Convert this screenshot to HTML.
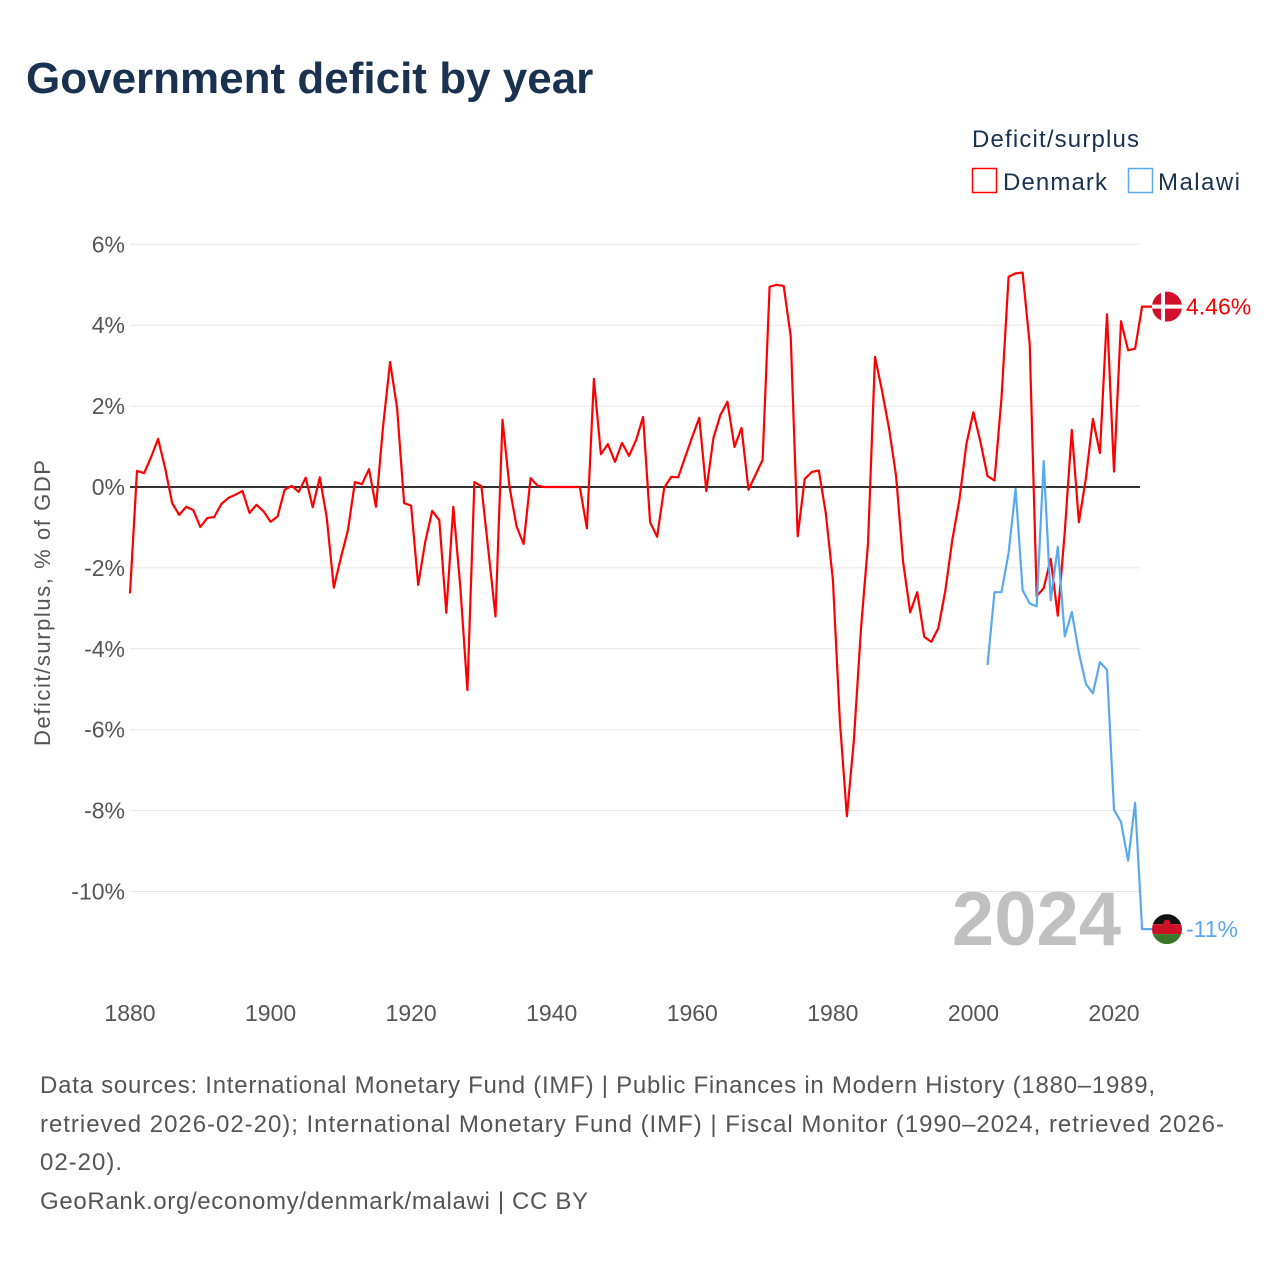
<!DOCTYPE html>
<html><head><meta charset="utf-8">
<style>
body{margin:0;background:#fff;font-family:"Liberation Sans",sans-serif;}
#wrap{position:relative;width:1280px;height:1280px;overflow:hidden;}
</style></head>
<body>
<div id="wrap">
<svg id="chart" width="1280" height="1280" xmlns="http://www.w3.org/2000/svg">
<text x="26" y="93" font-size="44" font-weight="bold" fill="#1a3150">Government deficit by year</text>
<text x="972" y="147" font-size="24" fill="#1a3150" textLength="167">Deficit/surplus</text>
<g>
<rect x="972.5" y="168.5" width="24" height="24" fill="none" stroke="#ff0000" stroke-width="1.5"/>
<text x="1003" y="190" font-size="24" fill="#1a3150" textLength="104">Denmark</text></g>
<g>
<rect x="1128.5" y="168.5" width="24" height="24" fill="none" stroke="#5aa9ef" stroke-width="1.5"/>
<text x="1158" y="190" font-size="24" fill="#1a3150" textLength="82">Malawi</text></g>
<text transform="translate(50,603) rotate(-90)" text-anchor="middle" font-size="22" fill="#555" textLength="286">Deficit/surplus, % of GDP</text>
<g id="grid"></g><g id="series"></g>
<text x="1121" y="945" text-anchor="end" font-size="76" font-weight="bold" fill="#c0c0c0">2024</text>
<g id="markers"></g>
<g font-size="24" fill="#555">
<text x="40" y="1093" textLength="1115">Data sources: International Monetary Fund (IMF) | Public Finances in Modern History (1880–1989,</text>
<text x="40" y="1132" textLength="1184">retrieved 2026-02-20); International Monetary Fund (IMF) | Fiscal Monitor (1990–2024, retrieved 2026-</text>
<text x="40" y="1170" textLength="82">02-20).</text>
<text x="40" y="1209" textLength="548">GeoRank.org/economy/denmark/malawi | CC BY</text>
</g>
</svg>
</div>
<script>
const yTicks=[6,4,2,0,-2,-4,-6,-8,-10];
const xTicks=[1880,1900,1920,1940,1960,1980,2000,2020];
const denmarkStart=1880;
const denmarkValues=[-2.63,0.40,0.34,0.74,1.19,0.47,-0.40,-0.69,-0.49,-0.57,-0.99,-0.77,-0.74,-0.42,-0.27,-0.19,-0.10,-0.64,-0.44,-0.60,-0.86,-0.73,-0.07,0.03,-0.12,0.23,-0.50,0.24,-0.77,-2.49,-1.75,-1.07,0.12,0.07,0.44,-0.49,1.48,3.09,1.95,-0.40,-0.46,-2.42,-1.36,-0.59,-0.82,-3.11,-0.49,-2.47,-5.02,0.12,0.02,-1.6,-3.2,1.66,0.0,-0.98,-1.41,0.22,0.03,0,0,0,0,0,0,-1.02,2.67,0.81,1.06,0.62,1.09,0.77,1.16,1.73,-0.87,-1.23,-0.02,0.25,0.24,0.75,1.24,1.71,-0.10,1.21,1.78,2.11,0.99,1.46,-0.07,0.30,0.67,4.95,5.0,4.97,3.73,-1.22,0.2,0.37,0.41,-0.65,-2.3,-5.8,-8.14,-6.25,-3.5,-1.4,3.22,2.37,1.44,0.27,-1.85,-3.1,-2.6,-3.7,-3.83,-3.49,-2.57,-1.31,-0.32,1.06,1.85,1.11,0.27,0.16,2.2,5.2,5.28,5.3,3.53,-2.7,-2.5,-1.78,-3.18,-1.1,1.41,-0.87,0.22,1.68,0.84,4.27,0.38,4.1,3.38,3.42,4.46];
const malawiStart=2002;
const malawiValues=[-4.4,-2.6,-2.6,-1.63,-0.05,-2.55,-2.88,-2.95,0.64,-2.8,-1.48,-3.69,-3.09,-4.1,-4.87,-5.1,-4.33,-4.52,-7.98,-8.28,-9.24,-7.81,-10.93];
const NS='http://www.w3.org/2000/svg';
const xS=yr=>130+(yr-1880)*(984/140);
const yS=v=>487-v*40.45;
function mk(tag,attrs,parent){const e=document.createElementNS(NS,tag);for(const k in attrs)e.setAttribute(k,attrs[k]);parent.appendChild(e);return e;}
const grid=document.getElementById('grid');
yTicks.forEach(t=>{
 const l=mk('line',{x1:130,x2:1140,y1:yS(t),y2:yS(t),stroke:t===0?'#333':'#e6e6e6','stroke-width':t===0?2:1},grid);
 
 
 const tx=mk('text',{x:125,y:yS(t)+8,'text-anchor':'end','font-size':23,fill:'#555'},grid);
 tx.textContent=t+'%';
 
 
});
xTicks.forEach(t=>{
 const tx=mk('text',{x:xS(t),y:1021,'text-anchor':'middle','font-size':23,fill:'#555'},grid);
 tx.textContent=t;
 
 
});
const ser=document.getElementById('series');
function line(vals,start,color,name){
 const pts=vals.map((v,i)=>xS(start+i).toFixed(1)+','+yS(v).toFixed(1));
 const lastV=vals[vals.length-1];
 pts.push('1152,'+yS(lastV).toFixed(1));
 const p=mk('polyline',{points:pts.join(' '),fill:'none',stroke:color,'stroke-width':2.2,'stroke-linejoin':'round'},ser);
 
 
}
line(denmarkValues,denmarkStart,'#ff0000','denmark-line');
line(malawiValues,malawiStart,'#5aa9ef','malawi-line');
const mg=document.getElementById('markers');
const dy=yS(denmarkValues[denmarkValues.length-1]);
const dk=mk('g',{},mg);


mk('defs',{},dk).innerHTML='<clipPath id="cd"><circle cx="1167" cy="'+dy+'" r="15"/></clipPath><clipPath id="cm"><circle cx="1167" cy="'+yS(malawiValues[malawiValues.length-1])+'" r="15"/></clipPath>';
const dg=mk('g',{'clip-path':'url(#cd)'},dk);
mk('rect',{x:1152,y:dy-15,width:30,height:30,fill:'#d2102c'},dg);
mk('rect',{x:1161,y:dy-15,width:4,height:30,fill:'#fff'},dg);
mk('rect',{x:1152,y:dy-2,width:30,height:4,fill:'#fff'},dg);
const dl=mk('text',{x:1186,y:dy+8,'font-size':23,fill:'#ff0000'},mg);
dl.textContent=denmarkValues[denmarkValues.length-1].toFixed(2)+'%';


const my=yS(malawiValues[malawiValues.length-1]);
const mw=mk('g',{'clip-path':'url(#cm)'},mg);


mk('rect',{x:1152,y:my-15,width:30,height:10,fill:'#111'},mw);
mk('rect',{x:1152,y:my-5,width:30,height:10,fill:'#ce1126'},mw);
mk('rect',{x:1152,y:my+5,width:30,height:10,fill:'#3a7728'},mw);
mk('circle',{cx:1167,cy:my-6,r:3.5,fill:'#ce1126'},mw);
const ml=mk('text',{x:1186,y:my+8,'font-size':23,fill:'#5aa9ef'},mg);
ml.textContent=Math.round(malawiValues[malawiValues.length-1])+'%';


</script>
</body></html>
